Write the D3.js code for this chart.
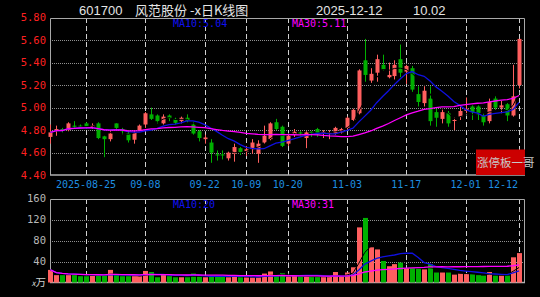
<!DOCTYPE html>
<html>
<head>
<meta charset="utf-8">
<script src="https://cdnjs.cloudflare.com/ajax/libs/d3/7.8.5/d3.min.js"></script>
<style>
  html, body { margin: 0; padding: 0; background: #000; }
  svg { display: block; }
  .mono { font-family: "DejaVu Sans Mono", monospace; }
</style>
</head>
<body>
<div id="chart"></div>
<script>
// trading days shown (2025)
var dates = ["08-15","08-18","08-19","08-20","08-21","08-22","08-25","08-26","08-27","08-28",
  "08-29","09-01","09-02","09-03","09-04","09-05","09-08","09-09","09-10","09-11",
  "09-12","09-15","09-16","09-17","09-18","09-19","09-22","09-23","09-24","09-25",
  "09-26","09-29","09-30","10-09","10-10","10-13","10-14","10-15","10-16","10-17",
  "10-20","10-21","10-22","10-23","10-24","10-27","10-28","10-29","10-30","10-31",
  "11-03","11-04","11-05","11-06","11-07","11-10","11-11","11-12","11-13","11-14",
  "11-17","11-18","11-19","11-20","11-21","11-24","11-25","11-26","11-27","11-28",
  "12-01","12-02","12-03","12-04","12-05","12-08","12-09","12-10","12-11","12-12"];

var open = [4.74,4.80,4.81,4.80,4.84,4.84,4.86,4.83,4.86,4.745,
  4.72,4.86,4.81,4.77,4.715,4.80,4.85,4.94,4.93,4.86,
  4.93,4.90,4.88,4.91,4.85,4.79,4.72,4.69,4.585,4.585,
  4.55,4.59,4.64,4.61,4.63,4.59,4.69,4.72,4.87,4.83,
  4.68,4.76,4.78,4.73,4.785,4.81,4.77,4.77,4.77,4.78,
  4.82,4.89,4.95,5.42,5.24,5.31,5.38,5.27,5.28,5.43,
  5.32,5.35,5.12,5.04,5.08,4.96,4.90,4.95,4.885,4.92,
  4.97,5.01,5.01,4.93,4.88,5.08,5.00,5.03,4.93,5.20];
var high = [4.85,4.84,4.82,4.87,4.88,4.85,4.87,4.86,4.87,4.75,
  4.79,4.86,4.82,4.80,4.80,4.85,4.96,5.00,4.94,4.94,
  4.94,4.91,4.92,4.94,4.87,4.80,4.76,4.72,4.62,4.62,
  4.61,4.68,4.65,4.66,4.72,4.71,4.84,4.87,4.90,4.84,
  4.76,4.81,4.79,4.79,4.79,4.82,4.80,4.80,4.83,4.82,
  4.92,4.99,5.34,5.61,5.35,5.47,5.47,5.40,5.42,5.56,
  5.38,5.37,5.19,5.19,5.19,4.99,4.99,4.97,4.91,5.01,
  5.09,5.02,5.02,4.95,5.08,5.10,5.06,5.04,5.38,5.61];
var low = [4.68,4.75,4.78,4.79,4.81,4.82,4.81,4.81,4.72,4.56,
  4.70,4.80,4.76,4.69,4.68,4.79,4.82,4.89,4.86,4.85,
  4.88,4.85,4.86,4.87,4.76,4.70,4.68,4.51,4.53,4.54,
  4.53,4.52,4.58,4.57,4.59,4.51,4.68,4.71,4.80,4.65,
  4.66,4.74,4.74,4.64,4.74,4.74,4.73,4.72,4.76,4.77,
  4.80,4.88,4.94,5.23,5.22,5.23,5.33,5.26,5.25,5.27,
  5.21,5.14,5.01,5.01,4.84,4.83,4.86,4.83,4.80,4.89,
  4.95,4.89,4.89,4.84,4.86,4.98,4.95,4.88,4.92,5.17];
var close = [4.78,4.81,4.80,4.86,4.83,4.835,4.83,4.84,4.73,4.72,
  4.77,4.82,4.79,4.71,4.775,4.84,4.95,4.90,4.88,4.92,
  4.905,4.865,4.91,4.88,4.77,4.73,4.735,4.60,4.575,4.575,
  4.60,4.65,4.60,4.63,4.69,4.68,4.75,4.86,4.81,4.66,
  4.75,4.785,4.77,4.78,4.78,4.76,4.785,4.78,4.82,4.81,
  4.91,4.98,5.33,5.29,5.30,5.43,5.34,5.29,5.38,5.31,
  5.37,5.16,5.05,5.15,4.88,4.91,4.96,4.86,4.89,4.97,
  4.99,4.96,4.94,4.87,5.05,5.00,5.02,4.93,5.10,5.61];
// volume, x万
var volume = [24,14,14,14,14,12,12,15,14,14,
  24,14,12,12,12,12,22,20,10,15,
  12,10,10,10,17,12,10,12,12,12,
  10,12,10,10,10,10,17,21,12,18,
  11,12,11,11,11,11,11,11,20,11,
  19,29,105,123,67,63,41,31,35,38,
  27,27,26,25,35,19,19,19,15,17,
  16,16,14,13,20,13,13,13,48,56];

var priceTicks = [4.40,4.60,4.80,5.00,5.20,5.40,5.60,5.80];
var volTicks = [40,80,120,160];
var dateTickDays = ["08-25","09-08","09-22","10-09","10-20","11-03","11-17","12-01","12-12"];
var dateTickLabels = ["2025-08-25","09-08","09-22","10-09","10-20","11-03","11-17","12-01","12-12"];

var W = 540, H = 297;
var left = 50, right = 524;
var pTop = 18, pBot = 175, vTop = 199, vBot = 282.5;

var svg = d3.select("#chart").append("svg")
  .attr("width", W).attr("height", H)
  .style("background", "#000");

var x = d3.scaleBand().domain(dates).range([47.5, 522]).padding(0);
var cx = function(d) { return x(d) + x.bandwidth() / 2; };
var y = d3.scaleLinear().domain([4.40, 5.80]).range([175.2, 17.5]);
var yv = d3.scaleLinear().domain([0, 160]).range([vBot, 198.5]);

var UP = "#ff5f5f", DOWN = "#00b000";

var candles = dates.map(function(d, i) {
  return { date: d, o: open[i], h: high[i], l: low[i], c: close[i], v: volume[i], up: close[i] >= open[i] };
});

//moving average over what is available
function ma(arr, n) {
  return arr.map(function(_, i) {
    var s = arr.slice(Math.max(0, i - n + 1), i + 1);
    return d3.mean(s);
  });
}

//grid lines
function hGrid(vals, scale) {
  svg.append("g").selectAll("line").data(vals).enter().append("line")
    .attr("x1", left).attr("x2", right)
    .attr("y1", function(d) { return Math.round(scale(d)) + 0.5; })
    .attr("y2", function(d) { return Math.round(scale(d)) + 0.5; })
    .attr("stroke", "#909090").attr("stroke-dasharray", "1,1");
}
hGrid([4.60,4.80,5.00,5.20,5.40,5.60], y);
hGrid([40,80,120], yv);

[[pTop, pBot], [vTop, vBot]].forEach(function(r) {
  svg.append("g").selectAll("line").data(dateTickDays).enter().append("line")
    .attr("x1", function(d) { return Math.round(cx(d)) + 0.5; })
    .attr("x2", function(d) { return Math.round(cx(d)) + 0.5; })
    .attr("y1", r[0]).attr("y2", r[1])
    .attr("stroke", "#d0d0d0").attr("stroke-dasharray", "5,3");
});

//frames
[[pTop, pBot], [vTop, vBot]].forEach(function(r) {
  svg.append("path")
    .attr("d", "M" + (left + 0.5) + "," + r[1] + "V" + (r[0] + 0.5) + "H" + (right + 0.5) + "V" + r[1])
    .attr("fill", "none").attr("stroke", "#a8a8a8");
  svg.append("line").attr("x1", left).attr("x2", right + 1)
    .attr("y1", r[1]).attr("y2", r[1])
    .attr("stroke", "#b0b0b0").attr("stroke-width", 1.5);
});

//price axis labels
svg.append("g").selectAll("text").data(priceTicks).enter().append("text")
  .attr("class", "mono")
  .attr("x", 46).attr("y", function(d) { return y(d); })
  .attr("dy", "0.36em")
  .attr("text-anchor", "end")
  .attr("font-size", 10.5).attr("fill", "#ff2020")
  .text(function(d) { return d.toFixed(2); });

svg.append("g").selectAll("text").data(volTicks).enter().append("text")
  .attr("class", "mono")
  .attr("x", 46).attr("y", function(d) { return yv(d); })
  .attr("dy", "0.36em")
  .attr("text-anchor", "end")
  .attr("font-size", 10.5).attr("fill", "#b8b8b8")
  .text(function(d) { return d; });

svg.append("text")
  .attr("x", 46).attr("y", vBot).attr("dy", "0.36em")
  .attr("text-anchor", "end").attr("font-size", 10.5).attr("fill", "#d0d0d0")
  .attr("font-family", "Noto Sans CJK SC")
  .html('<tspan font-size="8" font-style="italic">x</tspan>万');

//date labels
svg.append("g").selectAll("text").data(dateTickDays).enter().append("text")
  .attr("class", "mono")
  .attr("x", function(d, i) { return i == dateTickDays.length - 1 ? cx(d) - 1 : cx(d); })
  .attr("y", 188)
  .attr("text-anchor", function(d, i) { return i == dateTickDays.length - 1 ? "end" : "middle"; })
  .attr("font-size", 10).attr("fill", "#1e8fe0")
  .text(function(d, i) { return dateTickLabels[i]; });

//volume bars
svg.append("g").selectAll("rect").data(candles).enter().append("rect")
  .attr("x", function(d) { return Math.round(cx(d.date)) - 2; })
  .attr("width", 5)
  .attr("y", function(d) { return yv(d.v); })
  .attr("height", function(d) { return vBot - yv(d.v); })
  .attr("fill", function(d) { return d.up ? UP : DOWN; });

//candles
var cg = svg.append("g").selectAll("g").data(candles).enter().append("g");
cg.append("line")
  .attr("x1", function(d) { return Math.round(cx(d.date)) + 0.5; })
  .attr("x2", function(d) { return Math.round(cx(d.date)) + 0.5; })
  .attr("y1", function(d) { return y(d.h); })
  .attr("y2", function(d) { return y(d.l); })
  .attr("stroke", function(d) { return d.up ? UP : DOWN; });
cg.append("rect")
  .attr("x", function(d) { return Math.round(cx(d.date)) - 1.5; })
  .attr("width", 4)
  .attr("y", function(d) { return y(Math.max(d.o, d.c)); })
  .attr("height", function(d) { return Math.max(1, Math.abs(y(d.o) - y(d.c))); })
  .attr("fill", function(d) { return d.up ? UP : DOWN; });

//MA lines
function maLine(vals, scale, color, width) {
  var line = d3.line()
    .x(function(d, i) { return cx(dates[i]); })
    .y(function(d) { return scale(d); });
  svg.append("path").datum(vals)
    .attr("d", line)
    .attr("fill", "none").attr("stroke", color).attr("stroke-width", width);
}
maLine(ma(close, 5), y, "#000", 1);
maLine(ma(close, 10), y, "#1010e0", 1.3);
maLine(ma(close, 30), y, "#ff00ff", 1.3);
maLine(ma(volume, 5), yv, "#000", 1);
maLine(ma(volume, 10), yv, "#1010e0", 1.3);
maLine(ma(volume, 30), yv, "#ff00ff", 1.3);

//MA labels
function label(xp, yp, txt, color) {
  svg.append("text").attr("class", "mono")
    .attr("x", xp).attr("y", yp).attr("dy", "0.36em")
    .attr("font-size", 10).attr("fill", color).text(txt);
}
label(173, 23, "MA10:5.04", "#1010f0");
label(292, 23, "MA30:5.11", "#ff00ff");
label(173, 204, "MA10:20", "#1010f0");
label(292, 204, "MA30:31", "#ff00ff");

//title
var title = svg.append("g").attr("fill", "#e4e4e4").attr("font-size", 13);
title.append("text").attr("x", 79).attr("y", 15)
  .attr("font-family", "Liberation Sans").text("601700");
title.append("text").attr("x", 135).attr("y", 15)
  .attr("font-family", "Noto Sans CJK SC").attr("font-size", 13)
  .text("风范股份 -x日K线图");
title.append("text").attr("x", 316).attr("y", 15)
  .attr("font-family", "Liberation Sans").text("2025-12-12");
title.append("text").attr("x", 413).attr("y", 15)
  .attr("font-family", "Liberation Sans").text("10.02");

//watermark
svg.append("rect").attr("x", 476).attr("y", 149.5).attr("width", 49).attr("height", 25.5)
  .attr("fill", "#cc0000");
svg.append("text").attr("x", 477).attr("y", 163).attr("dy", "0.36em")
  .attr("font-family", "Noto Sans CJK SC").attr("font-size", 11.5)
  .attr("fill", "#c8c8c8").text("涨停板一哥");
</script>
</body>
</html>
